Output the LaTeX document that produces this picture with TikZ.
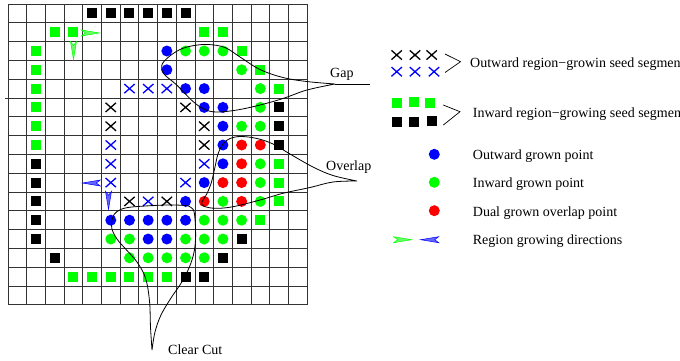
\documentclass[tikz,border=0pt]{standalone}
\usepackage{fontspec}
\setmainfont{Liberation Serif}
\begin{document}
\begin{tikzpicture}[x=1pt,y=-1pt,
  gridline/.style={black!80, line width=0.8pt},
  curve/.style={black, line width=0.8pt},
  lbl/.style={inner sep=0pt, anchor=base west, font=\fontsize{14}{16}\selectfont},
  crossmark/.style={line width=1.3pt},
  bracketline/.style={black, line width=0.7pt},
  growarrow/.pic={\filldraw[pic actions, line width=0.5pt] (0,0) -- (-18,-3) -- (-14,0) -- (-18,3) -- cycle;}
]
\useasboundingbox (0,0) rectangle (680,360);

% ---------- grid and marks ----------
\begin{scope}[shift={(8,4)}, x=18.69pt, y=-18.8pt]
  \foreach \i in {0,...,16} {
    \draw[gridline] (\i,0) -- (\i,16);
    \draw[gridline] (0,\i) -- (16,\i);
  }
  \draw[gridline] (-0.15,5) -- (0,5);
  % black squares (inward seed)
  \foreach \c/\r in {4/0,5/0,6/0,7/0,8/0,9/0,1/8,1/9,1/10,1/11,1/12,2/13,9/14,10/14,11/13,12/12,14/5,14/6,14/7}
    \fill[black] (\c+.5,\r+.5) ++(-5pt,-5pt) rectangle ++(10pt,10pt);
  % green squares (inward seed)
  \foreach \c/\r in {2/1,3/1,1/2,1/3,1/4,1/5,1/6,1/7,3/14,4/14,5/14,6/14,7/14,8/14,10/1,11/1,12/2,13/3,14/4,14/8,14/9,14/10,13/11}
    \fill[green] (\c+.5,\r+.5) ++(-5pt,-5pt) rectangle ++(10pt,10pt);
  % black crosses
  \foreach \c/\r in {5/5,5/6,9/5,10/6,10/7,6/10,8/10}
    \draw[crossmark, black] (\c+.5,\r+.5) ++(-5.2pt,-4.6pt) -- ++(10.4pt,9.2pt) ++(0pt,-9.2pt) -- ++(-10.4pt,9.2pt);
  % blue crosses
  \foreach \c/\r in {6/4,7/4,8/4,5/7,5/8,5/9,10/8,9/9,7/10}
    \draw[crossmark, blue] (\c+.5,\r+.5) ++(-5.2pt,-4.6pt) -- ++(10.4pt,9.2pt) ++(0pt,-9.2pt) -- ++(-10.4pt,9.2pt);
  % blue dots
  \foreach \c/\r in {8/2,8/3,9/4,10/4,10/5,11/5,11/6,11/7,11/8,10/9,9/10,5/11,6/11,7/11,8/11,9/11,7/12,8/12}
    \fill[blue] (\c+.5,\r+.5) circle[radius=5.5pt];
  % green dots
  \foreach \c/\r in {9/2,10/2,11/2,12/3,13/4,13/5,12/6,13/6,13/8,13/9,11/10,13/10,10/11,11/11,12/11,5/12,6/12,9/12,10/12,11/12,6/13,7/13,8/13,9/13,10/13}
    \fill[green] (\c+.5,\r+.5) circle[radius=5.5pt];
  % red dots
  \foreach \c/\r in {12/7,13/7,12/8,11/9,12/9,10/10,12/10}
    \fill[red] (\c+.5,\r+.5) circle[radius=5.5pt];
\end{scope}

% ---------- growing direction arrows ----------
\pic[draw=green, fill=green!60] at (99.3,33) {growarrow};
\pic[draw=green, fill=green!60, rotate=-90] at (73.5,59.5) {growarrow};
\pic[draw=blue, fill=blue!60, rotate=180] at (82.3,183) {growarrow};
\pic[draw=blue, fill=blue!60, rotate=-90] at (108.5,209.3) {growarrow};

% ---------- Gap ----------
\node[lbl] (gap) at (330,77) {Gap};
\coordinate (gapapex) at (335,84);
\coordinate (gapend) at (370,84);
\draw[curve] (gapapex) -- (gapend);
\draw[curve] plot[smooth, tension=0.6] coordinates {(335,84) (306.7,81.5) (283,77.5) (260,69.5) (240,57) (225,47.5) (208,44.5) (193,45.7) (180,49.5) (168,57.5) (161.7,65.5) (164,74) (176.7,85) (193.3,101.7) (205,109.5) (217,112) (237,110) (260,105) (283,98.5) (307,90) (335,84)};

% ---------- Overlap ----------
\node[lbl] (overlap) at (326,170) {Overlap};
\draw[curve] plot[smooth, tension=0.6] coordinates {(357,181) (333,175.5) (313,167) (290,154) (273,144) (257,138.5) (241,136.5) (230,138.5) (223,144) (218,154) (215,167) (211.5,182) (207,193.5) (202,202) (203.5,206) (215,208.3) (233,206.7) (260,200) (283,193.3) (310,187.5) (333,182) (357,181)};

% ---------- Clear Cut ----------
\node[lbl] (clearcut) at (168,354) {Clear Cut};
\draw[curve] plot[smooth, tension=0.6] coordinates {(152,350) (150.5,327) (149.5,301) (145.5,278) (137,262) (127,250.5) (117,239) (111.7,228) (112.5,218) (117,211.5) (126.7,207.7) (145,206) (167,205) (185,205.5) (191,207.5) (194.5,214) (195.5,240) (192,260) (183,280) (171,298) (161,315) (155,332) (152,350)};

% ---------- legend ----------
\foreach \x in {396.7,415,431.7}
  \draw[crossmark, black] (\x,55) ++(-5.2pt,-4.6pt) -- ++(10.4pt,9.2pt) ++(0pt,-9.2pt) -- ++(-10.4pt,9.2pt);
\foreach \x in {396.7,415,434}
  \draw[crossmark, blue] (\x,71.7) ++(-5.2pt,-4.6pt) -- ++(10.4pt,9.2pt) ++(0pt,-9.2pt) -- ++(-10.4pt,9.2pt);
\draw[bracketline] (445,54) -- (460.5,61.7) -- (445,72.5);
\node[lbl] (outseed) at (470,67) {Outward region−growin seed segmen};

\foreach \x/\y in {396.7/103.3,414.3/101.7,430/103.3}
  \fill[green] (\x,\y) ++(-5pt,-5pt) rectangle ++(10pt,10pt);
\foreach \x/\y in {396.7/121.7,414.3/122.3,431.7/120.7}
  \fill[black] (\x,\y) ++(-5pt,-5pt) rectangle ++(10pt,10pt);
\draw[bracketline] (443.3,105) -- (460,111.7) -- (443.3,125);
\node[lbl] (inseed) at (472.7,117) {Inward region−growing seed segmen};

\fill[blue] (434.3,154.3) circle[radius=5.5pt];
\node[lbl] (outpt) at (472.7,159.3) {Outward grown point};
\fill[green] (434.3,182.3) circle[radius=5.5pt];
\node[lbl] (inpt) at (472.7,187.3) {Inward grown point};
\fill[red] (434.3,210.7) circle[radius=5.5pt];
\node[lbl] (dualpt) at (472.7,216) {Dual grown overlap point};
\pic[draw=green, fill=green!60] at (411.7,239.7) {growarrow};
\pic[draw=blue, fill=blue!60, rotate=180] at (420.7,239.7) {growarrow};
\node[lbl] (dirs) at (472.7,244) {Region growing directions};
\end{tikzpicture}
\end{document}
